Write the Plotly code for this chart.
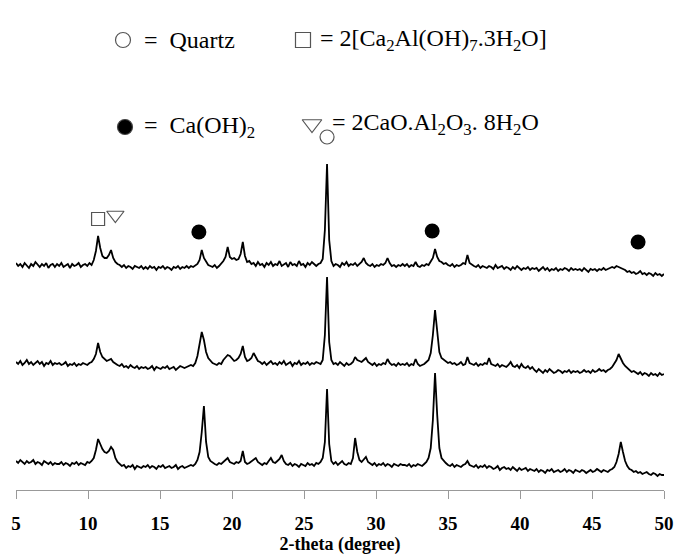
import numpy as np
import plotly.graph_objects as go

# ---- data: XRD patterns, 2-theta from 5 to 50 deg, instrument step 0.15 deg ----
TWO_THETA_START = 5.0
TWO_THETA_STEP = 0.15
N_POINTS = 301
two_theta = [round(TWO_THETA_START + TWO_THETA_STEP * i, 2) for i in range(N_POINTS)]

# relative intensities (a.u.), one row = 3 degrees
pattern_top = [
    7,4,6,3,7,5,2,6,4,8,5,3,6,4,7,2,5,6,3,6,
    4,7,3,5,6,2,6,4,5,7,3,5,6,4,7,5,10,19,34,22,
    14,12,12,15,20,12,8,6,5,3,5,2,4,3,1,4,3,2,4,1,
    3,1,4,2,3,0,3,2,4,1,3,2,0,3,2,4,1,3,2,4,
    2,4,3,5,6,10,20,12,8,5,4,3,5,2,4,6,9,13,23,13,
    11,12,10,11,16,28,14,8,9,6,7,4,8,5,6,3,7,5,8,4,
    6,5,9,4,6,7,3,8,5,6,4,9,5,6,3,7,5,8,6,4,
    6,7,11,40,106,30,9,4,6,5,3,7,5,8,4,6,5,7,4,6,
    8,12,7,5,4,6,3,5,4,6,5,7,12,7,4,5,3,5,4,6,
    4,6,3,5,4,8,4,3,5,4,6,5,8,12,21,13,9,8,6,7,
    5,4,6,3,5,4,5,7,6,15,7,5,4,3,5,2,4,3,2,4,
    3,1,5,2,3,4,1,3,2,0,3,1,4,2,0,2,1,3,0,2,
    1,2,-1,1,3,0,2,-1,1,0,2,-1,1,0,2,1,-1,2,0,1,
    0,1,-1,2,0,-2,1,0,1,-1,1,0,2,0,1,2,3,2,4,3,
    2,1,0,-2,-1,-3,-2,-4,-3,-1,-4,-3,-5,-3,-4,-6,-3,-5,-4,-6,
    -4,
]
pattern_middle = [
    8,6,9,5,7,10,6,8,5,7,9,6,8,4,7,6,9,5,7,6,
    7,5,6,8,4,6,5,7,4,6,5,7,6,5,7,8,11,16,27,18,
    13,11,9,10,11,8,6,5,4,6,3,4,2,5,3,2,4,1,3,2,
    3,1,2,4,0,3,2,1,3,2,4,1,2,3,0,2,4,3,2,3,
    4,5,4,7,14,26,38,30,18,12,9,7,6,5,7,6,10,13,15,14,
    11,9,10,12,16,24,13,9,10,12,17,13,9,8,6,8,5,7,9,6,
    7,5,8,6,9,5,7,8,4,7,6,9,5,7,6,8,5,7,6,8,
    7,6,10,35,93,28,10,6,7,5,8,6,4,7,5,6,8,13,10,9,
    8,10,12,8,6,5,7,4,6,5,7,6,11,7,5,6,4,7,5,6,
    5,7,4,6,5,11,6,4,5,6,8,10,17,35,60,38,18,12,10,9,
    7,8,6,7,5,6,8,5,6,13,7,6,5,7,4,6,5,7,6,12,
    6,5,4,6,3,5,4,3,5,8,4,3,5,2,6,3,2,4,1,3,
    0,-2,1,-1,-3,0,-2,1,-1,-3,-2,0,-1,-3,-1,-2,0,-3,-1,-2,
    -1,-3,-2,0,-2,-1,-3,0,-2,-1,1,-1,0,-2,0,1,3,6,10,16,
    11,7,4,2,0,-2,-1,-3,-4,-2,-5,-3,-4,-6,-3,-5,-4,-6,-3,-5,
    -4,
]
pattern_bottom = [
    9,7,10,8,6,9,7,8,10,6,8,7,5,9,7,6,8,5,7,6,
    6,8,5,7,6,4,7,6,8,5,7,6,5,8,7,9,12,20,31,26,
    21,18,17,19,23,20,12,8,6,4,5,2,4,3,5,1,4,3,2,4,
    3,5,2,4,3,1,4,3,5,2,3,4,2,3,5,1,3,4,2,3,
    4,5,4,6,10,18,38,64,28,13,9,7,6,5,7,6,8,10,12,8,
    7,6,8,7,9,19,8,6,7,9,10,12,8,6,5,7,6,9,12,8,
    7,9,11,15,9,6,5,7,4,6,5,3,6,5,4,7,5,6,4,7,
    6,8,12,28,81,26,9,6,8,5,7,9,6,5,7,6,12,32,18,10,
    8,10,13,8,6,5,7,4,6,5,7,4,6,5,3,6,5,4,6,5,
    5,4,6,3,5,4,6,5,4,6,8,12,22,50,97,55,22,12,9,7,
    5,4,6,3,5,4,3,5,6,9,5,4,3,5,2,4,3,5,2,4,
    3,1,2,4,0,2,3,1,2,0,3,1,-1,2,0,1,2,-1,1,0,
    -1,1,-2,0,-1,-3,0,-1,1,-2,-1,0,-2,-1,1,-2,0,-1,-3,0,
    -1,-2,0,-1,-3,-1,0,-2,-1,1,-1,-2,0,-1,-2,0,1,3,8,16,
    28,18,9,4,1,0,-2,-1,-3,-2,-4,-3,-2,-4,-5,-3,-4,-6,-4,-5,
    -5,
]

# phase markers placed above identified peaks (2-theta, intensity level)
quartz_x = [26.6]
quartz_y = [353]
hydrate_sq_x = [10.7]
hydrate_sq_y = [271]
hydrate_tri_x = [11.9]
hydrate_tri_y = [275]
portlandite_x = [17.7, 33.9, 48.2]
portlandite_y = [258, 259, 248]

tick_vals = [5, 10, 15, 20, 25, 30, 35, 40, 45, 50]

# ---- layout constants (vertical stacking offsets) ----
offsets = [220, 120, 20]
patterns = [pattern_top, pattern_middle, pattern_bottom]

SERIF = "'Liberation Serif', 'Times New Roman', Times, 'DejaVu Serif', serif"

fig = go.Figure()
for pat, off in zip(patterns, offsets):
    assert len(pat) == N_POINTS
    fig.add_trace(go.Scatter(
        x=two_theta, y=[v + off for v in pat], mode="lines",
        line=dict(color="#000000", width=1.8), showlegend=False, hoverinfo="skip"))

sym_grey = "#555555"
fig.add_trace(go.Scatter(x=quartz_x, y=quartz_y, mode="markers", showlegend=False,
                         marker=dict(symbol="circle-open", size=14, color=sym_grey, line=dict(width=1.2))))
fig.add_trace(go.Scatter(x=hydrate_sq_x, y=hydrate_sq_y, mode="markers", showlegend=False,
                         marker=dict(symbol="square-open", size=13, color=sym_grey, line=dict(width=1.2))))
fig.add_trace(go.Scatter(x=hydrate_tri_x, y=hydrate_tri_y, mode="markers", showlegend=False,
                         marker=dict(symbol="triangle-down-open", size=15, color=sym_grey, line=dict(width=1.2))))
fig.add_trace(go.Scatter(x=portlandite_x, y=portlandite_y, mode="markers", showlegend=False,
                         marker=dict(symbol="circle", size=15, color="#000000")))

# ---- key drawn at the top (symbols + text) ----
def px_to_x(px):
    return 5 + (px - 16) / 14.4

def py_to_y(py):
    return 490 - py

key_items = [
    ("circle-open", 123, 40, sym_grey, 15, "=  Quartz", 142),
    ("square-open", 303, 40, sym_grey, 15, "= 2[Ca<sub>2</sub>Al(OH)<sub>7</sub>.3H<sub>2</sub>O]", 318),
    ("circle", 125, 127, "#000000", 15, "=  Ca(OH)<sub>2</sub>", 142),
    ("triangle-down-open", 312, 124, sym_grey, 17, "= 2CaO.Al<sub>2</sub>O<sub>3</sub>. 8H<sub>2</sub>O", 330),
]
for sym, sx, sy, col, size, text, tx in key_items:
    fig.add_trace(go.Scatter(
        x=[px_to_x(sx)], y=[py_to_y(sy)], mode="markers", showlegend=False, hoverinfo="skip",
        marker=dict(symbol=sym, size=size, color=col, line=dict(width=1.2))))
    fig.add_annotation(x=px_to_x(tx), y=py_to_y(sy), xref="x", yref="y", text=text,
                       showarrow=False, xanchor="left", yanchor="middle",
                       font=dict(family=SERIF, size=24, color="#000000"))

fig.update_layout(
    width=676, height=558,
    margin=dict(l=16, r=12, t=0, b=68),
    paper_bgcolor="white", plot_bgcolor="white",
    font=dict(family=SERIF),
    xaxis=dict(range=[5, 50], tickvals=tick_vals, showline=True, linecolor="#999999",
               linewidth=1.2, ticks="outside", ticklen=8, tickcolor="#999999",
               showgrid=False, zeroline=False, ticklabelstandoff=8,
               tickfont=dict(family=SERIF, size=19, color="#000000", weight="bold"),
               title=dict(text="2-theta (degree)", standoff=4,
                          font=dict(family=SERIF, size=18, color="#000000", weight="bold"))),
    yaxis=dict(range=[0, 490], visible=False),
)

fig.write_html("out.html", config={"displayModeBar": False},
               post_script="document.body.style.margin='0';document.body.style.padding='0';")
